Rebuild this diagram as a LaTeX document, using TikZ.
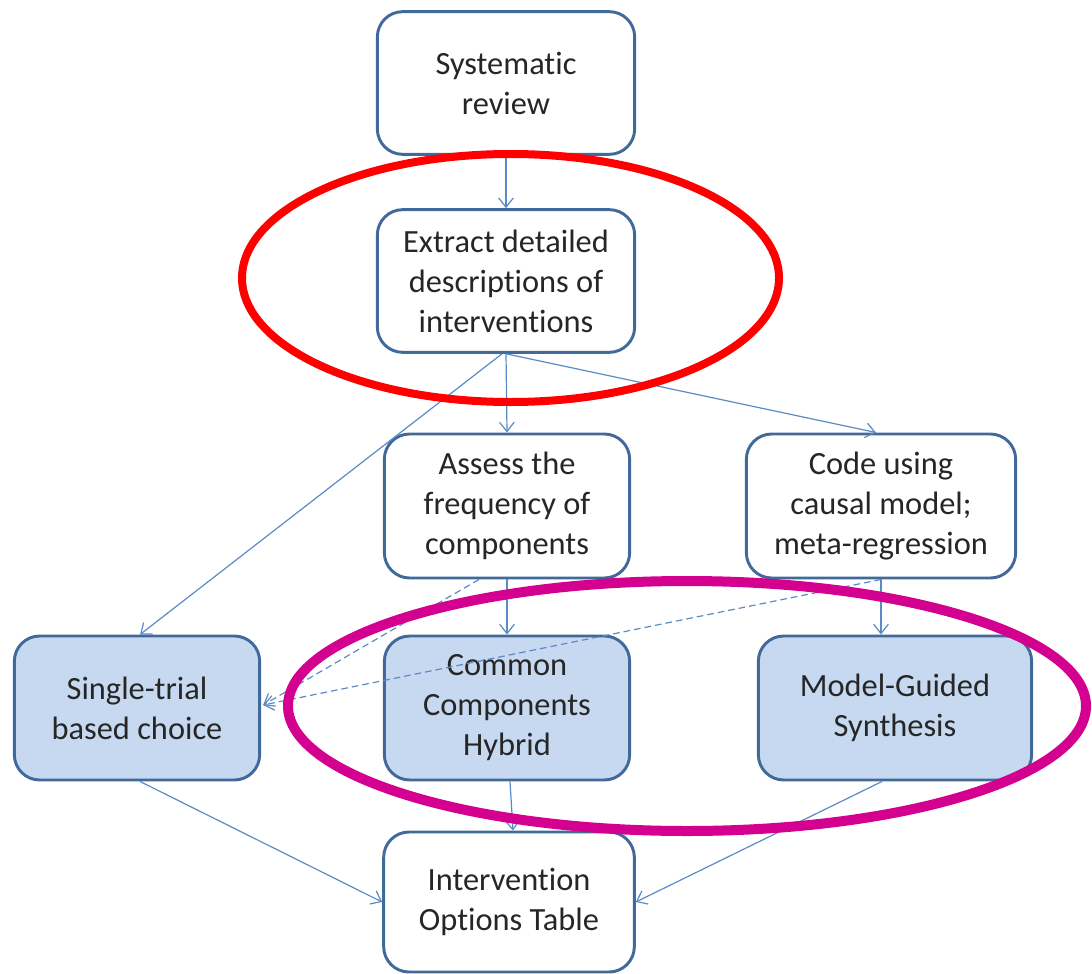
\documentclass[tikz,border=0pt]{standalone}
\usepackage{fontspec}
\setmainfont{Carlito}[Ligatures=NoCommon]
\usetikzlibrary{calc,arrows.meta}
\definecolor{boxline}{HTML}{41699A}
\definecolor{boxfill}{HTML}{C6D9F0}
\definecolor{linkcol}{HTML}{5B8BC6}
\definecolor{txt}{HTML}{262626}
\definecolor{hlred}{HTML}{FF0000}
\definecolor{hlmag}{HTML}{D4008F}
\tikzset{
  stepbox/.style={draw=boxline, line width=2.2pt, rounded corners=19pt,
    fill=white, text=txt, align=center, inner sep=0pt,
    font=\fontsize{24.3}{30}\selectfont},
  methodbox/.style={stepbox, fill=boxfill},
  link/.style={draw=linkcol, line width=0.9pt,
    -{Straight Barb[length=7pt,width=11pt,line width=0.9pt]}},
  dlink/.style={link, dashed, dash pattern=on 5pt off 3pt},
  ring/.style={line width=6pt}
}
\begin{document}
\begin{tikzpicture}[x=0.75pt,y=-0.75pt]
\useasboundingbox (0,0) rectangle (1092,974);

% process steps
\node[stepbox, minimum width=193pt, minimum height=107pt] (review) at (506,83) {Systematic\\review};
\node[stepbox, minimum width=193pt, minimum height=107pt] (extract) at (506,281) {Extract detailed\\descriptions of\\interventions};
\node[stepbox, minimum width=184pt, minimum height=108pt] (assess) at (507,506) {Assess the\\frequency of\\components};
\node[stepbox, minimum width=202pt, minimum height=108pt] (code) at (881,506) {Code using\\causal model;\\meta-regression};

% synthesis methods
\node[methodbox, minimum width=184pt, minimum height=108pt] (single) at (137,708) {Single-trial\\based choice};
\node[methodbox, minimum width=184pt, minimum height=108pt] (common) at (507,708) {Common\\Components\\Hybrid};
\node[methodbox, minimum width=205pt, minimum height=108pt] (model) at (895,708) {Model-Guided\\Synthesis};

% result
\node[stepbox, minimum width=188pt, minimum height=105pt] (table) at (509,902) {Intervention\\Options Table};

% connectors
\draw[link] (review.south) -- (extract.north);
\draw[link] (extract.south) -- (assess.north);
\draw[link] (extract.south) -- ($(code.north)+(-5,0)$);
\draw[link] ($(extract.south)+(-4,0)$) -- ($(single.north)+(3,0)$);
\draw[link] (assess.south) -- (common.north);
\draw[link] (code.south) -- (code.south |- model.north);
\draw[dlink] ($(assess.south)+(-28,0)$) -- ($(single.east)+(2,-3)$);
\draw[dlink] (code.south) -- ($(single.east)+(2,-3)$);
\draw[link] ($(single.south)+(3,0)$) -- (table.west);
\draw[link] ($(common.south)+(3,0)$) -- ($(table.north)+(4,0)$);
\draw[link] ($(model.south)+(-13,0)$) -- (table.east);

% highlight rings
\draw[hlred, ring] (510.5,278) ellipse [x radius=268.5, y radius=124];
\draw[hlmag, ring, line width=7.5pt] (687,706) ellipse [x radius=399, y radius=125];
\end{tikzpicture}
\end{document}
